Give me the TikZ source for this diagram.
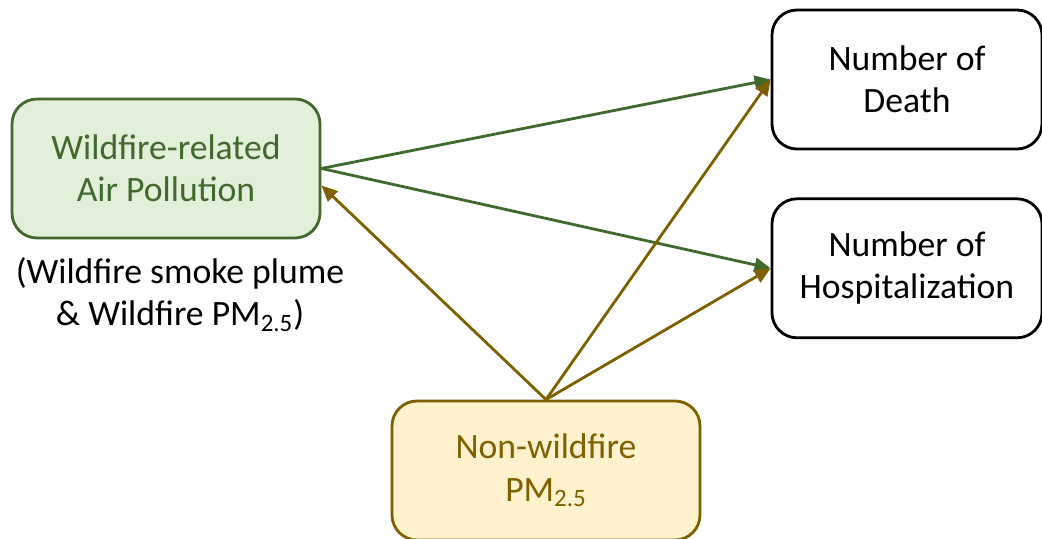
\documentclass[tikz,border=0pt]{standalone}
\usepackage{fontspec}
\setmainfont{Carlito}
\usetikzlibrary{positioning,arrows.meta}
\definecolor{wgreen}{HTML}{41692D}
\definecolor{wgreenf}{HTML}{E2EFD9}
\definecolor{ngold}{HTML}{7F6000}
\definecolor{ngoldf}{HTML}{FFF2CC}

\begin{document}
\begin{tikzpicture}[
  every node/.style={align=center,font=\fontsize{20.3}{24}\selectfont,},%
  bx/.style={draw,line width=1.6pt,rounded corners=0.5cm,minimum height=2.78cm,},%
  g/.style={fill=wgreenf,draw=wgreen,text=wgreen,minimum width=6.16cm,},%
  ye/.style={fill=ngoldf,draw=ngold,text=ngold,minimum width=6.16cm,},%
  w/.style={fill=white,draw=black,minimum width=5.4cm,},%
  e/.style={-{Triangle[length=0.32cm,width=0.28cm]},line width=1.6pt,},%
  eg/.style={e,draw=wgreen,fill=wgreen,},%
  ey/.style={e,draw=ngold,fill=ngold,},%
  ]
  \useasboundingbox (0,0) rectangle (20.84,-10.78);

  \node (wild) [bx,g] at (3.32,-3.37) {Wildfire-related\\Air Pollution};

  \node (note) [below=0.24cm of wild,xshift=0.28cm%
  ] {(Wildfire smoke plume\\\& Wildfire PM\textsubscript{2.5})};

  \node (death) [bx,w] at (18.14,-1.59) {Number of\\Death};

  \node (hosp) [bx,w,below=0.94cm of death] {Number of\\Hospitalization};

  \node (nonwild) [bx,ye] at (10.92,-9.41) {Non-wildfire\\PM\textsubscript{2.5}};

  \coordinate (wildin) at ([yshift=-0.34cm]wild.east);
  \draw [eg] (wild.east) -- (death.west);
  \draw [eg] (wild.east) -- (hosp.west);
  \draw [ey] (nonwild.north) -- (wildin);
  \draw [ey] (nonwild.north) -- (death.west);
  \draw [ey] (nonwild.north) -- (hosp.west);
\end{tikzpicture}
\end{document}
